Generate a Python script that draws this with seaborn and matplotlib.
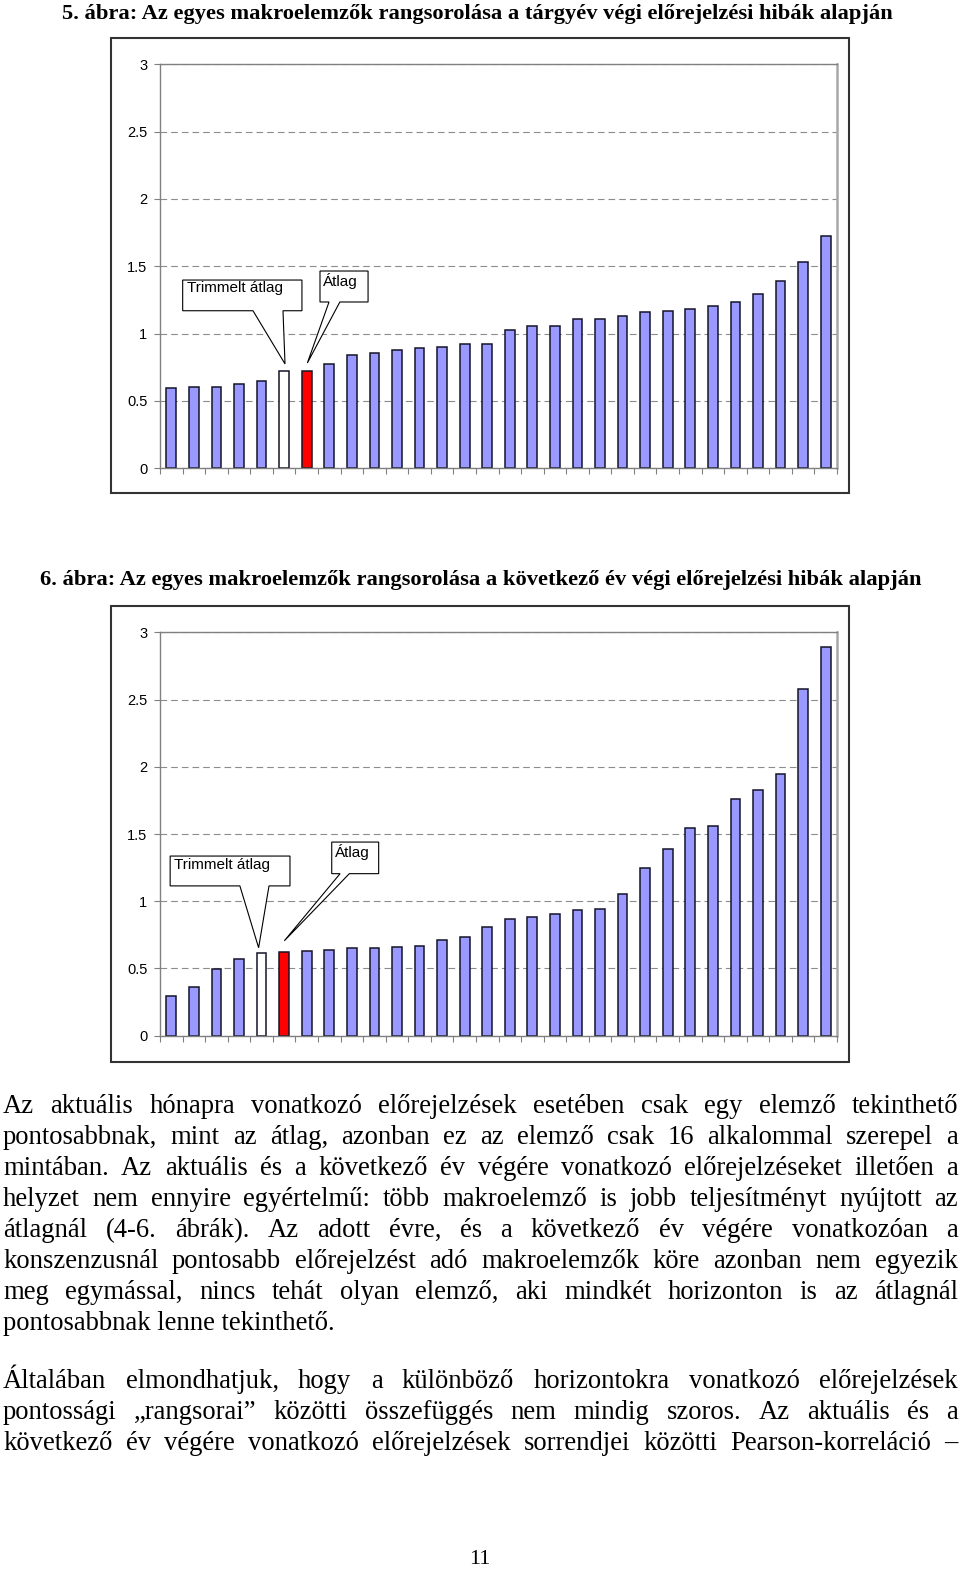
import numpy as np
import pandas as pd
import seaborn as sns
import matplotlib.pyplot as plt
from matplotlib.patches import Polygon, Rectangle
from matplotlib.font_manager import FontProperties

# values: 30 bars each, sorted by forecast error
ranks = [str(i) for i in range(1, 31)]
errors_5 = [0.594, 0.601, 0.604, 0.624, 0.651, 0.725, 0.725, 0.775, 0.839, 0.854,
            0.879, 0.891, 0.903, 0.923, 0.926, 1.030, 1.057, 1.059, 1.106, 1.109,
            1.131, 1.163, 1.171, 1.186, 1.205, 1.235, 1.297, 1.394, 1.530, 1.725]
errors_6 = [0.298, 0.360, 0.496, 0.568, 0.617, 0.625, 0.630, 0.635, 0.650, 0.650,
            0.662, 0.665, 0.709, 0.736, 0.808, 0.870, 0.880, 0.908, 0.935, 0.940,
            1.054, 1.247, 1.389, 1.547, 1.562, 1.758, 1.830, 1.944, 2.581, 2.894]
# position of the trimmed mean (white) and the mean (red) bar
trimmed_5, mean_5 = 5, 6
trimmed_6, mean_6 = 4, 5

yticks = [0, 0.5, 1, 1.5, 2, 2.5, 3]
ytick_labels = ["0", "0.5", "1", "1.5", "2", "2.5", "3"]

title_5 = "5. ábra: Az egyes makroelemzők rangsorolása a tárgyév végi előrejelzési hibák alapján"
title_6 = "6. ábra: Az egyes makroelemzők rangsorolása a következő év végi előrejelzési hibák alapján"

para_1 = [
    "Az aktuális hónapra vonatkozó előrejelzések esetében csak egy elemző tekinthető",
    "pontosabbnak, mint az átlag, azonban ez az elemző csak 16 alkalommal szerepel a",
    "mintában. Az aktuális és a következő év végére vonatkozó előrejelzéseket illetően a",
    "helyzet nem ennyire egyértelmű: több makroelemző is jobb teljesítményt nyújtott az",
    "átlagnál (4-6. ábrák). Az adott évre, és a következő év végére vonatkozóan a",
    "konszenzusnál pontosabb előrejelzést adó makroelemzők köre azonban nem egyezik",
    "meg egymással, nincs tehát olyan elemző, aki mindkét horizonton is az átlagnál",
    "pontosabbnak lenne tekinthető.",
]
para_2 = [
    "Általában elmondhatjuk, hogy a különböző horizontokra vonatkozó előrejelzések",
    "pontossági „rangsorai” közötti összefüggés nem mindig szoros. Az aktuális és a",
    "következő év végére vonatkozó előrejelzések sorrendjei közötti Pearson-korreláció –",
]
page_no = "11"

BAR = '#9999ff'
SANS = 'Liberation Sans'
SERIF = 'Liberation Serif'

fig = plt.figure(figsize=(9.6, 15.7), dpi=100)

# page layer in pixel coordinates
page = fig.add_axes([0, 0, 1, 1], zorder=0)
page.set_xlim(0, 960)
page.set_ylim(1570, 0)
page.axis('off')


def callout(ax, box, base, tip, label, text_xy):
    x0, x1, y0, y1 = box
    verts = [(x0, y1), (x1, y1), (x1, y0), (base[1], y0), tip, (base[0], y0), (x0, y0)]
    ax.add_patch(Polygon(verts, closed=True, facecolor='white', edgecolor='black',
                         lw=0.8, zorder=5, clip_on=False))
    ax.text(text_xy[0], text_xy[1], label, ha='left', va='top', fontsize=11,
            family=SANS, zorder=6)


def draw_chart(ax, values, i_trim, i_mean):
    colors = [BAR] * len(values)
    colors[i_trim] = 'white'
    colors[i_mean] = '#ff0000'
    df = pd.DataFrame({'rank': ranks, 'error': values})
    sns.barplot(data=df, x='rank', y='error', hue='rank', palette=colors, legend=False,
                width=0.43, saturation=1, edgecolor='#141428', linewidth=1.1, ax=ax)
    ax.set_xlim(-0.5, 29.5)
    ax.set_ylim(0, 3)
    ax.set_xlabel('')
    ax.set_ylabel('')
    ax.set_xticks(np.arange(-0.5, 30, 1))
    ax.set_xticklabels([])
    ax.tick_params(axis='x', length=4, width=0.8, color='#808080', direction='out')
    ax.set_yticks(yticks)
    ax.set_yticklabels(ytick_labels, fontsize=10.5, family=SANS)
    ax.tick_params(axis='y', length=4, width=0.8, color='#808080', pad=5)
    ax.yaxis.grid(True, color='#8c8c8c', linestyle=(0, (6, 3.6)), linewidth=0.8)
    ax.set_axisbelow(True)
    for side in ['left', 'bottom', 'top']:
        ax.spines[side].set_color('#808080')
        ax.spines[side].set_linewidth(1.0)
    ax.spines['right'].set_color('#a8a8a8')
    ax.spines['right'].set_linewidth(1.8)


ax1 = fig.add_axes([160 / 960, 1 - 468.3 / 1570, 677 / 960, 404 / 1570], zorder=1)
draw_chart(ax1, errors_5, trimmed_5, mean_5)
callout(ax1, (0.505, 5.79, 1.170, 1.398), (3.62, 4.95), (5.04, 0.775),
        "Trimmelt átlag", (0.68, 1.39))
callout(ax1, (6.59, 8.72, 1.235, 1.465), (6.99, 7.47), (6.03, 0.782),
        "Átlag", (6.72, 1.45))

ax2 = fig.add_axes([160 / 960, 1 - 1035.7 / 1570, 677 / 960, 403.4 / 1570], zorder=1)
draw_chart(ax2, errors_6, trimmed_6, mean_6)
callout(ax2, (-0.05, 5.26, 1.114, 1.336), (3.04, 4.33), (3.87, 0.654),
        "Trimmelt átlag", (0.12, 1.325))
callout(ax2, (7.11, 9.19, 1.205, 1.440), (7.48, 7.89), (5.01, 0.706),
        "Átlag", (7.25, 1.425))

# chart frames
page.add_patch(Rectangle((110.7, 38.3), 738.3, 454.7, fill=False, ec='#333333', lw=1.5))
page.add_patch(Rectangle((110.7, 606), 738.3, 455.7, fill=False, ec='#333333', lw=1.5))

renderer = fig.canvas.get_renderer()


def text_width(s, fp):
    w, h, d = renderer.get_text_width_height_descent(s, fp, ismath=False)
    return w


# titles, sized to the width they take in the original
fp_t = FontProperties(family=SERIF, weight='bold', size=15)
fs_t = 15 * 830 / text_width(title_5, fp_t)
fp_t = FontProperties(family=SERIF, weight='bold', size=fs_t)
page.text(62, 18.5, title_5, fontproperties=fp_t, ha='left', va='baseline')
page.text(40, 584.5, title_6, fontproperties=fp_t, ha='left', va='baseline')

# body text, justified
fp_b = FontProperties(family=SERIF, size=15)
fs_b = 15 * 334 / text_width(para_1[-1], fp_b)
fp_b = FontProperties(family=SERIF, size=fs_b)
LEFT, RIGHT = 3, 958


def justify(line, y):
    words = line.split(' ')
    widths = [text_width(w, fp_b) for w in words]
    gap = (RIGHT - LEFT - sum(widths)) / (len(words) - 1)
    x = LEFT
    for w, wd in zip(words, widths):
        page.text(x, y, w, fontproperties=fp_b, ha='left', va='baseline')
        x += wd + gap


for i, line in enumerate(para_1):
    y = 1113 + 31 * i
    if i == len(para_1) - 1:
        page.text(LEFT, y, line, fontproperties=fp_b, ha='left', va='baseline')
    else:
        justify(line, y)

for i, line in enumerate(para_2):
    justify(line, 1388 + 31 * i)

page.text(480, 1564, page_no, family=SERIF, fontsize=16, ha='center', va='baseline')

fig.savefig('out.png', dpi=100)
